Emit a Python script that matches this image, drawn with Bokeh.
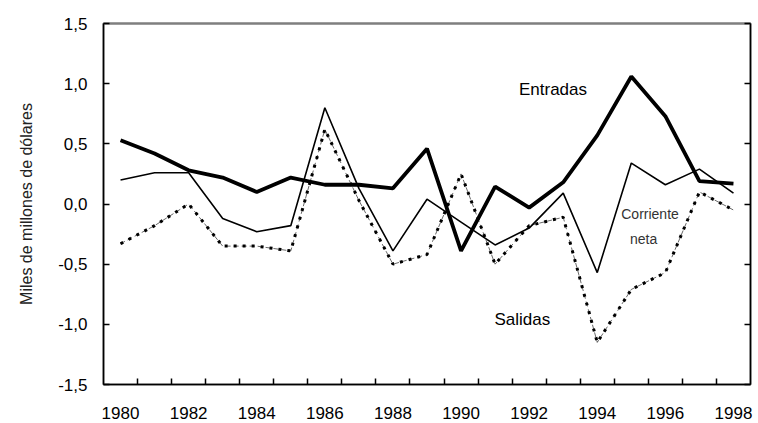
from bokeh.plotting import figure
from bokeh.models import FixedTicker, Range1d, Label, LinearAxis
from bokeh.embed import file_html
from bokeh.resources import INLINE

years = list(range(1980, 1999))
entradas = [0.53, 0.42, 0.28, 0.22, 0.10, 0.22, 0.16, 0.16, 0.13, 0.46, -0.39, 0.145, -0.03, 0.18, 0.57, 1.06, 0.73, 0.19, 0.17]
corriente = [0.20, 0.26, 0.26, -0.12, -0.23, -0.18, 0.80, 0.13, -0.39, 0.04, -0.15, -0.34, -0.20, 0.09, -0.57, 0.34, 0.16, 0.29, 0.09]
salidas = [-0.33, -0.18, 0.00, -0.35, -0.35, -0.39, 0.62, 0.03, -0.50, -0.42, 0.25, -0.50, -0.18, -0.11, -1.15, -0.71, -0.57, 0.10, -0.05]

y_ticks = [-1.5, -1.0, -0.5, 0.0, 0.5, 1.0, 1.5]
y_labels = ["-1,5", "-1,0", "-0,5", "0,0", "0,5", "1,0", "1,5"]
x_label_years = [1980, 1982, 1984, 1986, 1988, 1990, 1992, 1994, 1996, 1998]

FONT = "Liberation Sans"
boundaries = [y + 0.5 for y in years[:-1]]

p = figure(frame_width=647, frame_height=361, output_backend="svg", toolbar_location=None,
           x_range=Range1d(1979.5, 1998.5), y_range=Range1d(-1.5, 1.5),
           x_axis_location=None,
           min_border_left=103, min_border_top=23, min_border_right=6, min_border_bottom=37)
p.background_fill_alpha = 0
p.border_fill_color = "white"
p.outline_line_color = "#808080"
p.outline_line_width = 2
p.grid.visible = False

# gray frame on top and right
for side in ("above", "right"):
    ax = LinearAxis(ticker=FixedTicker(ticks=[], minor_ticks=[]),
                    major_tick_in=0, major_tick_out=0, minor_tick_in=0, minor_tick_out=0,
                    axis_line_color="#7f7f7f", axis_line_width=2,
                    major_label_text_font_size="1px", major_label_standoff=0)
    p.add_layout(ax, side)

# x axis with boundary ticks (no labels)
xt = LinearAxis(ticker=FixedTicker(ticks=boundaries, minor_ticks=[]),
                major_label_overrides={b: "" for b in boundaries},
                major_tick_in=6, major_tick_out=0, minor_tick_in=0, minor_tick_out=0,
                major_tick_line_color="black", major_tick_line_width=1.5,
                axis_line_color="black", axis_line_width=1.5,
                major_label_text_font_size="1px", major_label_standoff=0)
p.add_layout(xt, "below")
# x axis with year labels
xl = LinearAxis(ticker=FixedTicker(ticks=x_label_years, minor_ticks=[]),
                major_label_overrides={y: str(y) for y in x_label_years},
                major_tick_in=0, major_tick_out=0, minor_tick_in=0, minor_tick_out=0,
                axis_line_color=None,
                major_label_text_font=FONT, major_label_text_font_size="17px",
                major_label_text_color="black", major_label_standoff=22)
p.add_layout(xl, "below")

# y axis
p.yaxis.ticker = FixedTicker(ticks=y_ticks, minor_ticks=[])
p.yaxis.major_label_overrides = {t: l for t, l in zip(y_ticks, y_labels)}
p.yaxis.major_tick_in = 6
p.yaxis.major_tick_out = 0
p.yaxis.major_tick_line_color = "black"
p.yaxis.major_tick_line_width = 1.5
p.yaxis.minor_tick_in = 0
p.yaxis.minor_tick_out = 0
p.yaxis.axis_line_color = "black"
p.yaxis.axis_line_width = 1.5
p.yaxis.major_label_text_font = FONT
p.yaxis.major_label_text_font_size = "17px"
p.yaxis.major_label_text_color = "black"
p.yaxis.major_label_standoff = 16
p.yaxis.axis_label = "Miles de millones de dólares"
p.yaxis.axis_label_text_font = FONT
p.yaxis.axis_label_text_font_size = "16px"
p.yaxis.axis_label_text_font_style = "normal"
p.yaxis.axis_label_text_color = "#222222"
p.yaxis.axis_label_standoff = 20

# series
p.line(years, salidas, line_color="black", line_width=0.6, line_dash="5 3")
p.line(years, salidas, line_color="black", line_width=3, line_dash="3 6")
p.line(years, corriente, line_color="black", line_width=1.6)
p.line(years, entradas, line_color="black", line_width=3.8)

# labels
p.add_layout(Label(x=1992.7, y=0.95, text="Entradas", text_font=FONT, text_font_size="17px",
                   text_color="black", text_align="center", text_baseline="middle"))
p.add_layout(Label(x=1991.8, y=-0.96, text="Salidas", text_font=FONT, text_font_size="17px",
                   text_color="black", text_align="center", text_baseline="middle"))
p.add_layout(Label(x=1995.55, y=-0.08, text="Corriente", text_font=FONT, text_font_size="14px",
                   text_color="#333333", text_align="center", text_baseline="middle"))
p.add_layout(Label(x=1995.36, y=-0.295, text="neta", text_font=FONT, text_font_size="14px",
                   text_color="#333333", text_align="center", text_baseline="middle"))

open("out.html", "w").write(file_html(p, INLINE))
